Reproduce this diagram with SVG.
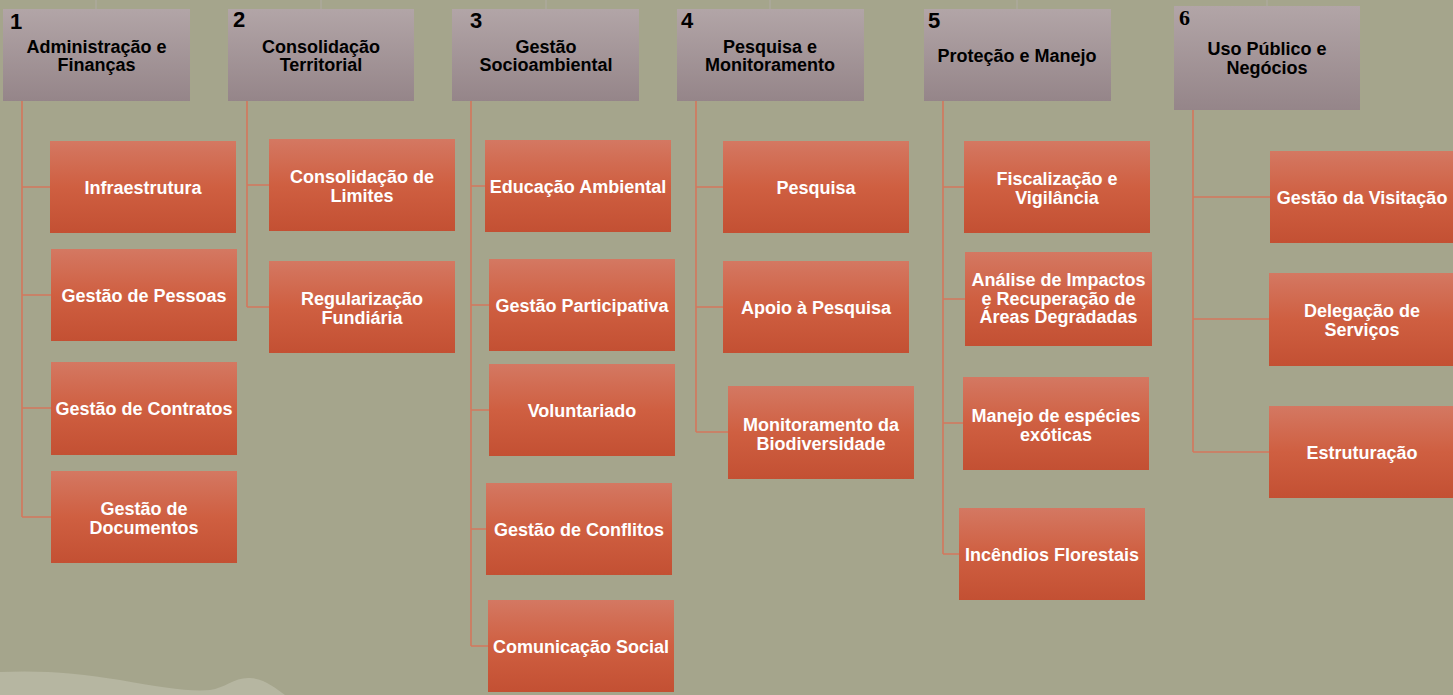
<svg xmlns="http://www.w3.org/2000/svg" width="1453" height="695" viewBox="0 0 1453 695">
<defs>
<linearGradient id="gOrange" x1="0" y1="0" x2="0" y2="1">
<stop offset="0" stop-color="#d47862"/>
<stop offset="0.5" stop-color="#cf5f41"/>
<stop offset="1" stop-color="#c35033"/>
</linearGradient>
<linearGradient id="gHead" x1="0" y1="0" x2="0" y2="1">
<stop offset="0" stop-color="#b2a5a7"/>
<stop offset="1" stop-color="#958589"/>
</linearGradient>
<style>
.hd{fill:url(#gHead)}
.bx{fill:url(#gOrange)}
.ht{font-family:"Liberation Sans",Arial,sans-serif;font-weight:bold;font-size:18px;fill:#000;text-anchor:middle}
.bt{font-family:"Liberation Sans",Arial,sans-serif;font-weight:bold;font-size:18px;fill:#fff;text-anchor:middle}
.num{font-family:"Liberation Sans",Arial,sans-serif;font-weight:bold;font-size:22px;fill:#000}
.numS{font-family:"Liberation Serif","Times New Roman",serif;font-weight:bold;font-size:22px;fill:#000}
.cn{stroke:#d4775c;stroke-width:1.6;fill:none}
.top{stroke:#b0aba3;stroke-width:1;fill:none}
</style>
</defs>
<rect x="0" y="0" width="1453" height="695" fill="#a5a58c"/>
<path d="M0,672 C40,670 80,673 120,680 C160,687 190,692 210,690 C225,688 235,677 250,678 C265,679 275,688 285,695 L0,695 Z" fill="#b6b6a1"/>

<g id="connectors">
<path class="top" d="M96,0 V9 M321,0 V9 M546,0 V9 M770,0 V9 M1017,0 V9 M1267,0 V6"/>
<path class="cn" d="M22,101 V517 M22,187 H50 M22,295 H51 M22,408 H51 M22,517 H51"/>
<path class="cn" d="M247,101 V307 M247,185 H269 M247,307 H269"/>
<path class="cn" d="M471,101 V646 M471,186 H485 M471,305 H489 M471,410 H489 M471,529 H486 M471,646 H488"/>
<path class="cn" d="M696,101 V432 M696,187 H723 M696,307 H723 M696,432 H728"/>
<path class="cn" d="M943,101 V554 M943,187 H964 M943,299 H965 M943,423 H963 M943,554 H959"/>
<path class="cn" d="M1193,110 V452 M1193,197 H1270 M1193,319 H1269 M1193,452 H1269"/>
</g>

<g id="h1"><rect class="hd" x="3" y="9" width="187" height="92"/><text class="num" x="10" y="29">1</text><text class="ht" x="96.5" y="53">Administração e</text><text class="ht" x="96.5" y="71">Finanças</text></g>
<g id="h2"><rect class="hd" x="228" y="9" width="186" height="92"/><text class="num" x="233" y="27">2</text><text class="ht" x="321" y="53">Consolidação</text><text class="ht" x="321" y="71">Territorial</text></g>
<g id="h3"><rect class="hd" x="452" y="9" width="187" height="92"/><text class="num" x="470" y="28">3</text><text class="ht" x="546" y="53">Gestão</text><text class="ht" x="546" y="71">Socioambiental</text></g>
<g id="h4"><rect class="hd" x="677" y="9" width="187" height="92"/><text class="num" x="681" y="28">4</text><text class="ht" x="770" y="53">Pesquisa e</text><text class="ht" x="770" y="71">Monitoramento</text></g>
<g id="h5"><rect class="hd" x="924" y="9" width="187" height="92"/><text class="num" x="928" y="28">5</text><text class="ht" x="1017" y="62">Proteção e Manejo</text></g>
<g id="h6"><rect class="hd" x="1174" y="6" width="186" height="104"/><text class="numS" x="1179" y="25">6</text><text class="ht" x="1267" y="55">Uso Público e</text><text class="ht" x="1267" y="74">Negócios</text></g>

<g id="n1a"><rect class="bx" x="50" y="141" width="186" height="92"/><text class="bt" x="143" y="193.5">Infraestrutura</text></g>
<g id="n1b"><rect class="bx" x="51" y="249" width="186" height="92"/><text class="bt" x="144" y="301.5">Gestão de Pessoas</text></g>
<g id="n1c"><rect class="bx" x="51" y="362" width="186" height="93"/><text class="bt" x="144" y="414.5">Gestão de Contratos</text></g>
<g id="n1d"><rect class="bx" x="51" y="471" width="186" height="92"/><text class="bt" x="144" y="515">Gestão de</text><text class="bt" x="144" y="533.5">Documentos</text></g>

<g id="n2a"><rect class="bx" x="269" y="139" width="186" height="92"/><text class="bt" x="362" y="183">Consolidação de</text><text class="bt" x="362" y="201.5">Limites</text></g>
<g id="n2b"><rect class="bx" x="269" y="261" width="186" height="92"/><text class="bt" x="362" y="305">Regularização</text><text class="bt" x="362" y="323.5">Fundiária</text></g>

<g id="n3a"><rect class="bx" x="485" y="140" width="186" height="92"/><text class="bt" x="578" y="192.5">Educação Ambiental</text></g>
<g id="n3b"><rect class="bx" x="489" y="259" width="186" height="92"/><text class="bt" x="582" y="311.5">Gestão Participativa</text></g>
<g id="n3c"><rect class="bx" x="489" y="364" width="186" height="92"/><text class="bt" x="582" y="416.5">Voluntariado</text></g>
<g id="n3d"><rect class="bx" x="486" y="483" width="186" height="92"/><text class="bt" x="579" y="535.5">Gestão de Conflitos</text></g>
<g id="n3e"><rect class="bx" x="488" y="600" width="186" height="92"/><text class="bt" x="581" y="652.5">Comunicação Social</text></g>

<g id="n4a"><rect class="bx" x="723" y="141" width="186" height="92"/><text class="bt" x="816" y="193.5">Pesquisa</text></g>
<g id="n4b"><rect class="bx" x="723" y="261" width="186" height="92"/><text class="bt" x="816" y="313.5">Apoio à Pesquisa</text></g>
<g id="n4c"><rect class="bx" x="728" y="386" width="186" height="93"/><text class="bt" x="821" y="431">Monitoramento da</text><text class="bt" x="821" y="450">Biodiversidade</text></g>

<g id="n5a"><rect class="bx" x="964" y="141" width="186" height="92"/><text class="bt" x="1057" y="185">Fiscalização e</text><text class="bt" x="1057" y="203.5">Vigilância</text></g>
<g id="n5b"><rect class="bx" x="965" y="252" width="187" height="94"/><text class="bt" x="1058.5" y="286">Análise de Impactos</text><text class="bt" x="1058.5" y="304.5">e Recuperação de</text><text class="bt" x="1058.5" y="323">Áreas Degradadas</text></g>
<g id="n5c"><rect class="bx" x="963" y="377" width="186" height="93"/><text class="bt" x="1056" y="422">Manejo de espécies</text><text class="bt" x="1056" y="440.5">exóticas</text></g>
<g id="n5d"><rect class="bx" x="959" y="508" width="186" height="92"/><text class="bt" x="1052" y="560.5">Incêndios Florestais</text></g>

<g id="n6a"><rect class="bx" x="1270" y="151" width="186" height="92"/><text class="bt" x="1362" y="203.5">Gestão da Visitação</text></g>
<g id="n6b"><rect class="bx" x="1269" y="273" width="186" height="93"/><text class="bt" x="1362" y="317">Delegação de</text><text class="bt" x="1362" y="336">Serviços</text></g>
<g id="n6c"><rect class="bx" x="1269" y="406" width="186" height="92"/><text class="bt" x="1362" y="458.5">Estruturação</text></g>
</svg>
